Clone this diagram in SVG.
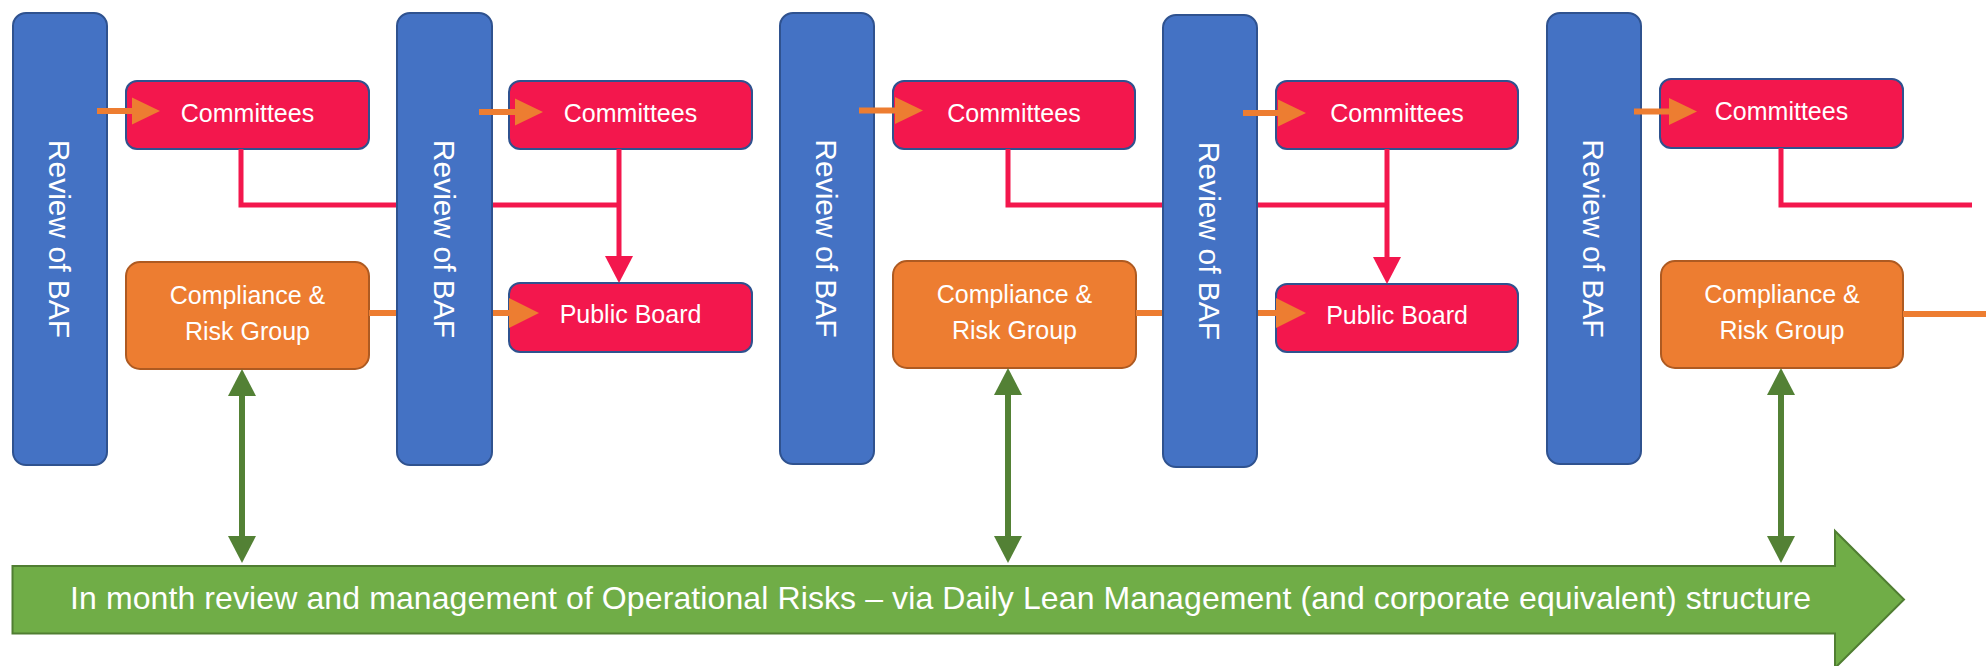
<svg xmlns="http://www.w3.org/2000/svg" width="1986" height="666" viewBox="0 0 1986 666">
  <defs>
    <style>
      .baf { fill: #4472C4; stroke: #2F528F; stroke-width: 2; }
      .red { fill: #F3174D; stroke: #2F528F; stroke-width: 2; }
      .org { fill: #ED7D31; stroke: #AE5A21; stroke-width: 2; }
      .lbl { font-family: "Liberation Sans", Arial, sans-serif; fill: #FFFFFF; text-anchor: middle; }
      .box-lbl { font-size: 25px; }
      .baf-lbl { font-size: 30px; }
      .bar-lbl { font-size: 32px; text-anchor: start; }
      .ln-org { stroke: #ED7D31; stroke-width: 6; fill: none; }
      .ln-red { stroke: #F3174D; stroke-width: 5; fill: none; stroke-linejoin: miter; }
      .ln-grn { stroke: #538135; stroke-width: 6; fill: none; }
    </style>
    <marker id="head-org" markerUnits="userSpaceOnUse" markerWidth="30" markerHeight="30" refX="0" refY="13.5" orient="auto" overflow="visible">
      <path d="M0,0 L28,13.5 L0,27 Z" fill="#ED7D31"/>
    </marker>
    <marker id="head-org-lg" markerUnits="userSpaceOnUse" markerWidth="32" markerHeight="32" refX="0" refY="15" orient="auto" overflow="visible">
      <path d="M0,0 L30,15 L0,30 Z" fill="#ED7D31"/>
    </marker>
    <marker id="head-red" markerUnits="userSpaceOnUse" markerWidth="30" markerHeight="30" refX="0" refY="14" orient="auto" overflow="visible">
      <path d="M0,0 L27,14 L0,28 Z" fill="#F3174D"/>
    </marker>
    <marker id="head-grn" markerUnits="userSpaceOnUse" markerWidth="30" markerHeight="30" refX="0" refY="14" orient="auto-start-reverse" overflow="visible">
      <path d="M0,0 L27,14 L0,28 Z" fill="#538135"/>
    </marker>
  </defs>

  <!-- operational risk band -->
  <g id="ops-band">
    <polygon points="12.5,566 1835,566 1835,531 1904,599.5 1835,668 1835,633.5 12.5,633.5" fill="#70AD47" stroke="#507E32" stroke-width="2"/>
    <text class="lbl bar-lbl" x="70" y="609" textLength="1741">In month review and management of Operational Risks – via Daily Lean Management (and corporate equivalent) structure</text>
  </g>

  <!-- committees -->
  <g id="committees-1">
    <rect class="red" x="126" y="81" width="243" height="68" rx="11"/>
    <text class="lbl box-lbl" x="247.5" y="122">Committees</text>
  </g>
  <g id="committees-2">
    <rect class="red" x="509" y="81" width="243" height="68" rx="11"/>
    <text class="lbl box-lbl" x="630.5" y="122">Committees</text>
  </g>
  <g id="committees-3">
    <rect class="red" x="893" y="81" width="242" height="68" rx="11"/>
    <text class="lbl box-lbl" x="1014" y="122">Committees</text>
  </g>
  <g id="committees-4">
    <rect class="red" x="1276" y="81" width="242" height="68" rx="11"/>
    <text class="lbl box-lbl" x="1397" y="122">Committees</text>
  </g>
  <g id="committees-5">
    <rect class="red" x="1660" y="79" width="243" height="69" rx="11"/>
    <text class="lbl box-lbl" x="1781.5" y="120">Committees</text>
  </g>

  <!-- public board -->
  <g id="public-board-1">
    <rect class="red" x="509" y="283" width="243" height="69" rx="11"/>
    <text class="lbl box-lbl" x="630.5" y="323">Public Board</text>
  </g>
  <g id="public-board-2">
    <rect class="red" x="1276" y="284" width="242" height="68" rx="11"/>
    <text class="lbl box-lbl" x="1397" y="324">Public Board</text>
  </g>

  <!-- compliance & risk group -->
  <g id="compliance-1">
    <rect class="org" x="126" y="262" width="243" height="107" rx="14"/>
    <text class="lbl box-lbl" x="247.5" y="304">Compliance &amp;</text>
    <text class="lbl box-lbl" x="247.5" y="340">Risk Group</text>
  </g>
  <g id="compliance-2">
    <rect class="org" x="893" y="261" width="243" height="107" rx="14"/>
    <text class="lbl box-lbl" x="1014.5" y="303">Compliance &amp;</text>
    <text class="lbl box-lbl" x="1014.5" y="339">Risk Group</text>
  </g>
  <g id="compliance-3">
    <rect class="org" x="1661" y="261" width="242" height="107" rx="14"/>
    <text class="lbl box-lbl" x="1782" y="303">Compliance &amp;</text>
    <text class="lbl box-lbl" x="1782" y="339">Risk Group</text>
  </g>

  <!-- flows running behind the BAF reviews -->
  <g id="connectors">
    <polyline class="ln-red" points="241,149 241,205 619,205"/>
    <line class="ln-red" x1="619" y1="149" x2="619" y2="256" marker-end="url(#head-red)"/>
    <polyline class="ln-red" points="1008,149 1008,205 1387,205"/>
    <line class="ln-red" x1="1387" y1="149" x2="1387" y2="257" marker-end="url(#head-red)"/>
    <polyline class="ln-red" points="1781,148 1781,205 1972,205"/>

    <line class="ln-org" x1="369" y1="313" x2="509" y2="313" marker-end="url(#head-org-lg)"/>
    <line class="ln-org" x1="1136" y1="313" x2="1276" y2="313" marker-end="url(#head-org-lg)"/>
    <line class="ln-org" x1="1903" y1="314" x2="1986" y2="314"/>

    <line class="ln-grn" x1="242" y1="396" x2="242" y2="536" marker-start="url(#head-grn)" marker-end="url(#head-grn)"/>
    <line class="ln-grn" x1="1008" y1="395" x2="1008" y2="536" marker-start="url(#head-grn)" marker-end="url(#head-grn)"/>
    <line class="ln-grn" x1="1781" y1="395" x2="1781" y2="536" marker-start="url(#head-grn)" marker-end="url(#head-grn)"/>
  </g>

  <!-- BAF review bars -->
  <g id="baf-1">
    <rect class="baf" x="13" y="13" width="94" height="452" rx="13"/>
    <text class="lbl baf-lbl" transform="translate(49,239) rotate(90)">Review of BAF</text>
  </g>
  <g id="baf-2">
    <rect class="baf" x="397" y="13" width="95" height="452" rx="13"/>
    <text class="lbl baf-lbl" transform="translate(433.5,239) rotate(90)">Review of BAF</text>
  </g>
  <g id="baf-3">
    <rect class="baf" x="780" y="13" width="94" height="451" rx="13"/>
    <text class="lbl baf-lbl" transform="translate(816,238.5) rotate(90)">Review of BAF</text>
  </g>
  <g id="baf-4">
    <rect class="baf" x="1163" y="15" width="94" height="452" rx="13"/>
    <text class="lbl baf-lbl" transform="translate(1199,241) rotate(90)">Review of BAF</text>
  </g>
  <g id="baf-5">
    <rect class="baf" x="1547" y="13" width="94" height="451" rx="13"/>
    <text class="lbl baf-lbl" transform="translate(1583,238.5) rotate(90)">Review of BAF</text>
  </g>

  <!-- BAF outputs feeding the committees -->
  <g id="connectors-top">
    <line class="ln-org" x1="97" y1="111" x2="132" y2="111" marker-end="url(#head-org)"/>
    <line class="ln-org" x1="479" y1="112" x2="515" y2="112" marker-end="url(#head-org)"/>
    <line class="ln-org" x1="859" y1="110.5" x2="895" y2="110.5" marker-end="url(#head-org)"/>
    <line class="ln-org" x1="1243" y1="113" x2="1278" y2="113" marker-end="url(#head-org)"/>
    <line class="ln-org" x1="1634" y1="111.5" x2="1669" y2="111.5" marker-end="url(#head-org)"/>
  </g>
</svg>
